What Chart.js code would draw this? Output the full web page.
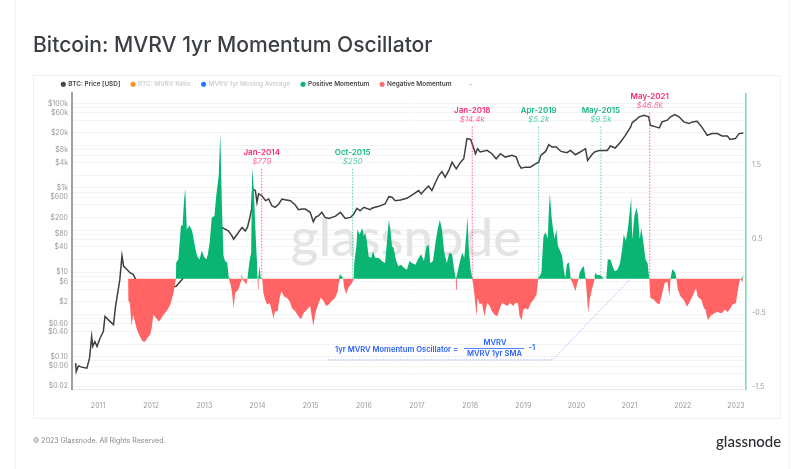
<!DOCTYPE html>
<html><head><meta charset="utf-8">
<script src="https://cdn.jsdelivr.net/npm/chart.js@4"></script>
<style>
html,body{margin:0;padding:0;background:#fff;width:805px;height:469px;overflow:hidden;font-family:Inter,sans-serif}
#wrap{position:relative;width:805px;height:469px;filter:blur(.45px)}
#outer{position:absolute;left:15px;top:-2px;width:775px;height:473px;border:1px solid #f4f4f4;box-sizing:border-box}
#card{position:absolute;left:33px;top:75px;width:748px;height:344px;border:1px solid #f0f0f0;box-sizing:border-box}
h1{position:absolute;left:33px;top:32px;margin:0;font:500 21.1px Inter,sans-serif;color:#3b3f44;white-space:nowrap}
#copy{position:absolute;left:33px;top:436px;font:400 7px Inter,sans-serif;color:#888}
#logo{position:absolute;left:716px;top:432px;font:500 15px Lato,sans-serif;color:#2c2f33}
canvas{position:absolute;left:0;top:0}
</style></head><body>
<div id="wrap">
<div id="outer"></div><div id="card"></div>
<h1>Bitcoin: MVRV 1yr Momentum Oscillator</h1>
<canvas id="c" width="805" height="469"></canvas>
<div id="copy">© 2023 Glassnode. All Rights Reserved.</div>
<div id="logo">glassnode</div>
</div>
<script>
const priceDates=[2010.58,2010.59,2010.63,2010.69,2010.79,2010.84,2010.88,2010.90,2010.94,2010.98,2011.04,2011.10,2011.13,2011.19,2011.29,2011.33,2011.38,2011.41,2011.45,2011.48,2011.54,2011.60,2011.66,2011.71,2011.79,2011.89,2012.02,2012.07,2012.26,2012.36,2012.47,2012.58,2012.73,2013.02,2013.15,2013.24,2013.31,2013.33,2013.39,2013.45,2013.52,2013.55,2013.64,2013.71,2013.77,2013.81,2013.85,2013.89,2013.91,2013.96,2013.99,2014.02,2014.08,2014.15,2014.21,2014.27,2014.33,2014.40,2014.46,2014.52,2014.62,2014.71,2014.77,2014.84,2014.90,2014.99,2015.05,2015.09,2015.15,2015.21,2015.27,2015.34,2015.46,2015.56,2015.65,2015.75,2015.81,2015.87,2015.93,2016.00,2016.12,2016.15,2016.28,2016.40,2016.47,2016.53,2016.59,2016.69,2016.81,2016.94,2017.03,2017.08,2017.16,2017.22,2017.28,2017.35,2017.41,2017.47,2017.53,2017.60,2017.66,2017.74,2017.82,2017.88,2017.94,2018.01,2018.06,2018.10,2018.14,2018.19,2018.32,2018.41,2018.49,2018.57,2018.66,2018.79,2018.87,2018.91,2018.96,2019.04,2019.13,2019.23,2019.29,2019.33,2019.42,2019.48,2019.54,2019.62,2019.71,2019.82,2019.89,2019.98,2020.07,2020.17,2020.21,2020.29,2020.34,2020.44,2020.58,2020.64,2020.73,2020.83,2020.92,2021.02,2021.05,2021.11,2021.18,2021.27,2021.36,2021.39,2021.49,2021.56,2021.61,2021.71,2021.77,2021.85,2021.93,2022.02,2022.12,2022.18,2022.27,2022.37,2022.46,2022.55,2022.65,2022.74,2022.84,2022.89,2022.99,2023.06,2023.14];
const priceValues=[.071,.045,.061,.057,.054,.093,.30,.176,.23,.176,.28,.40,.91,.76,.58,1.58,3.9,6.8,24.5,14.1,11.8,9.8,9,6.8,4.4,2.04,3.5,5.5,4.9,4.4,4.7,6.8,11.8,14.7,46,163,61,116,106,96,73,61,88,116,96,116,183,316,946,863,456,720,656,499,547,379,347,416,547,527,499,394,304,316,316,264,158,200,219,264,200,190,212,264,190,200,240,329,288,347,304,329,366,416,621,600,499,518,568,720,863,720,946,1097,863,1365,1963,2443,1795,2588,4083,2831,4083,4898,14678,14000,9297,6450,8483,7080,7740,6450,4898,6450,5370,5888,5370,3724,2940,3105,3105,3724,4083,5888,7310,10560,9297,9297,7310,6810,7740,6110,7080,8483,4470,6110,7080,7740,7740,9840,8810,12220,17600,27860,35300,40100,48200,52700,48200,30400,27860,26400,36600,40100,48200,54700,48200,36600,33400,36600,37900,26400,17600,19300,19300,17000,17000,14100,14700,19300,20000];
const oscDates=[2011.565,2011.57,2011.60,2011.63,2011.66,2011.70,2011.73,2011.76,2011.80,2011.84,2011.89,2011.93,2011.98,2012.01,2012.04,2012.09,2012.14,2012.18,2012.23,2012.29,2012.36,2012.42,2012.465,2012.47,2012.51,2012.56,2012.59,2012.62,2012.64,2012.67,2012.72,2012.77,2012.81,2012.86,2012.91,2012.95,2013.00,2013.05,2013.10,2013.14,2013.19,2013.22,2013.27,2013.30,2013.33,2013.36,2013.39,2013.43,2013.46,2013.50,2013.52,2013.55,2013.58,2013.64,2013.69,2013.70,2013.72,2013.79,2013.81,2013.85,2013.88,2013.90,2013.93,2013.96,2013.99,2014.00,2014.01,2014.02,2014.04,2014.06,2014.09,2014.11,2014.14,2014.18,2014.23,2014.27,2014.30,2014.33,2014.38,2014.41,2014.45,2014.50,2014.55,2014.60,2014.65,2014.71,2014.77,2014.82,2014.87,2014.93,2014.99,2015.05,2015.09,2015.15,2015.19,2015.24,2015.29,2015.34,2015.40,2015.46,2015.51,2015.53,2015.55,2015.59,2015.61,2015.63,2015.67,2015.71,2015.76,2015.81,2015.82,2015.86,2015.88,2015.92,2015.97,2016.00,2016.03,2016.06,2016.09,2016.14,2016.17,2016.22,2016.28,2016.34,2016.40,2016.44,2016.47,2016.50,2016.53,2016.56,2016.61,2016.65,2016.70,2016.75,2016.81,2016.86,2016.91,2016.97,2017.03,2017.08,2017.13,2017.18,2017.22,2017.25,2017.30,2017.35,2017.39,2017.43,2017.47,2017.51,2017.56,2017.61,2017.66,2017.70,2017.73,2017.735,2017.75,2017.80,2017.85,2017.89,2017.93,2017.95,2017.97,2018.01,2018.04,2018.07,2018.09,2018.12,2018.14,2018.18,2018.22,2018.27,2018.32,2018.37,2018.41,2018.46,2018.51,2018.56,2018.60,2018.65,2018.70,2018.75,2018.81,2018.85,2018.90,2018.93,2018.97,2019.00,2019.04,2019.09,2019.14,2019.20,2019.25,2019.28,2019.34,2019.38,2019.42,2019.46,2019.48,2019.50,2019.53,2019.56,2019.59,2019.62,2019.65,2019.68,2019.73,2019.76,2019.79,2019.82,2019.86,2019.89,2019.95,2019.98,2020.01,2020.04,2020.06,2020.11,2020.14,2020.17,2020.20,2020.22,2020.25,2020.29,2020.34,2020.35,2020.39,2020.44,2020.48,2020.51,2020.56,2020.59,2020.64,2020.68,2020.72,2020.77,2020.82,2020.86,2020.89,2020.93,2020.97,2021.00,2021.03,2021.05,2021.09,2021.13,2021.16,2021.19,2021.22,2021.26,2021.30,2021.34,2021.37,2021.39,2021.46,2021.51,2021.56,2021.60,2021.66,2021.71,2021.75,2021.77,2021.80,2021.82,2021.86,2021.88,2021.91,2021.96,2022.02,2022.08,2022.12,2022.18,2022.25,2022.28,2022.35,2022.40,2022.43,2022.47,2022.52,2022.59,2022.65,2022.73,2022.79,2022.85,2022.94,2023.00,2023.05,2023.08,2023.09,2023.12,2023.14];
const oscValues=[0,-.30,-.33,-.64,-.49,-.60,-.69,-.74,-.80,-.85,-.85,-.80,-.76,-.67,-.49,-.53,-.58,-.55,-.49,-.44,-.35,-.19,0,.22,.26,.72,.72,1.08,1.22,.67,.72,.65,.49,.31,.26,.38,.29,.26,.49,.83,.85,1.10,1.40,1.97,.99,.31,.24,.22,.01,-.10,-.19,-.40,-.19,-.15,-.03,.07,-.01,-.08,0,.24,.35,1.51,1.22,.67,.22,0,-.15,0,.17,.01,-.01,-.19,-.28,-.35,-.33,-.44,-.54,-.44,-.44,-.28,-.17,-.24,-.26,-.30,-.40,-.44,-.51,-.55,-.46,-.42,-.37,-.64,-.46,-.33,-.26,-.30,-.37,-.35,-.30,-.26,-.17,-.05,.06,.03,0,-.12,-.21,-.12,-.08,-.01,.21,.44,.67,.60,.69,.58,.62,.49,.30,.28,.37,.28,.28,.24,.21,.53,.80,.67,.44,.42,.24,.17,.19,.15,.12,.24,.21,.19,.28,.33,.24,.44,.46,.21,.24,.49,.67,.80,.67,.37,.21,.35,.33,.12,0,-.15,0,.21,.35,.28,.62,.85,.44,.12,.01,-.15,-.28,-.51,-.26,-.35,-.33,-.51,-.33,-.37,-.44,-.49,-.51,-.40,-.33,-.35,-.37,-.33,-.37,-.33,-.33,-.51,-.56,-.42,-.40,-.42,-.33,-.28,-.21,-.01,.08,.58,.63,.54,.90,1.15,.85,.67,.54,.67,.45,.40,.31,.13,.01,.20,.22,.01,-.10,-.17,-.08,0,.08,.15,.17,.01,-.24,-.46,-.28,-.15,-.01,.08,.05,.05,.03,0,0,.26,.26,.17,.10,.12,.21,.40,.60,.51,.69,.89,1.10,.53,.85,.96,.85,.53,.69,.49,.26,.21,0,-.26,-.29,-.33,-.35,-.24,-.06,-.04,-.24,-.01,.12,.12,.08,0,-.15,-.24,-.29,-.38,-.33,-.24,-.13,-.24,-.29,-.40,-.42,-.56,-.51,-.47,-.45,-.47,-.42,-.45,-.35,-.33,-.10,0,.01,-.04,.08];
const leftGridValues=[.02,.04,.06,.08,.1,.2,.4,.6,.8,1,2,4,6,8,10,20,40,60,80,100,200,400,600,800,1000,2000,4000,6000,8000,10000,20000,40000,60000,80000,100000];
const leftTickValues=[100000,60000,20000,8000,4000,1000,600,200,80,40,10,6,2,.6,.4,.1,.06,.02];
const leftTickLabels=["$100k","$60k","$20k","$8k","$4k","$1k","$600","$200","$80","$40","$10","$6","$2","$0.60","$0.40","$0.10","$0.06","$0.02"];
const rightTickValues=[1.54,.54,-.46,-1.46];
const rightTickLabels=["1.5","0.5","-0.5","-1.5"];
const yearTicks=[2011,2012,2013,2014,2015,2016,2017,2018,2019,2020,2021,2022,2023];
const legendNames=["BTC: Price [USD]","BTC: MVRV Ratio","MVRV 1yr Moving Average","Positive Momentum","Negative Momentum","-"];
const legendDots=["#444444","#f7931a","#2979ff","#0ab573","#ff6b6b","rgba(0,0,0,0)"];
const legendInk=["#444444","#cfcfcf","#cfcfcf","#444444","#444444","#999999"];
const annDates=[2014.08,2015.79,2018.04,2019.29,2020.46,2021.38];
const annTitles=["Jan-2014","Oct-2015","Jan-2018","Apr-2019","May-2015","May-2021"];
const annPrices=["$779","$250","$14.4k","$5.2k","$9.5k","$46.8k"];
const annTops=[2835,2835,28300,28300,28300,61000];
const annIsRed=[true,false,true,false,false,true];
const annBase=7.08;
const pointerDates=[2015.33,2019.55,2021.02];
const pointerValues=[-1.10,-1.10,0];

const xy=(xs,ys)=>xs.map((x,i)=>({x,y:ys[i]}));
const GREEN='#0ab573',RED='#ff6363';
const vlines=annDates.map((d,i)=>({type:'line',xAxisID:'x',yAxisID:'y',data:[{x:d,y:annTops[i]},{x:d,y:annBase}],
  borderColor:annIsRed[i]?'rgba(255,50,110,.75)':'rgba(20,190,130,.65)',borderWidth:1,borderDash:[1.5,1.5],pointRadius:0,fill:false}));
const textPlugin={id:'txt',
  afterLayout(c){ c.legend.top=70; c.legend.left=50.5; },
  beforeDatasetsDraw(c){const g=c.ctx;g.save();g.fillStyle='#e4e4e4';g.font='500 53px Lato,sans-serif';g.textAlign='center';g.textBaseline='alphabetic';
    g.fillText('glassnode',406,256);g.restore();},
  afterDatasetsDraw(c){const g=c.ctx,xs=c.scales.x,ys=c.scales.y;g.save();g.textAlign='center';g.textBaseline='middle';
    annDates.forEach((d,i)=>{const px=xs.getPixelForValue(d),py=ys.getPixelForValue(annTops[i]);
      g.fillStyle=annIsRed[i]?'#ff2a6d':'#17b97e';g.font='600 8px Inter,sans-serif';g.fillText(annTitles[i],px,py-16);
      g.fillStyle=annIsRed[i]?'#ff6f9a':'#5fd0a6';g.font='italic 400 8px Inter,sans-serif';g.fillText(annPrices[i],px,py-7);});
    const B='#2962ff';g.fillStyle=B;g.font='600 7.6px Inter,sans-serif';g.textAlign='left';
    g.fillText('1yr MVRV Momentum Oscillator =',335,349.5);
    g.textAlign='center';g.fillText('MVRV',495,343);g.fillText('MVRV 1yr SMA',494.5,354);
    g.fillRect(464,348,60,.8);g.textAlign='left';g.fillText('-1',528.5,348);
    g.restore();}
};
new Chart(document.getElementById('c'),{
  type:'line',
  plugins:[textPlugin],
  data:{datasets:[...vlines,
    {data:xy(pointerDates,pointerValues),yAxisID:'y2',borderColor:'rgba(90,140,255,.6)',borderWidth:1,borderDash:[1.5,1.5],pointRadius:0,fill:false},
    {data:xy(oscDates,oscValues.map(v=>Math.max(v,0))),yAxisID:'y2',borderWidth:0,backgroundColor:GREEN,pointRadius:0,fill:'origin'},
    {data:xy(oscDates,oscValues.map(v=>Math.min(v,0))),yAxisID:'y2',borderWidth:0,backgroundColor:RED,pointRadius:0,fill:'origin'},
    {data:xy(priceDates,priceValues),yAxisID:'y',borderColor:'#3f3f3f',borderWidth:1.5,pointRadius:0,fill:false}
  ]},
  options:{responsive:false,animation:false,devicePixelRatio:1,
    layout:{padding:{left:33,right:24,top:66,bottom:55}},
    plugins:{tooltip:{enabled:false},
      legend:{position:'top',align:'start',onClick:null,labels:{usePointStyle:true,boxWidth:3.6,boxHeight:3.6,padding:11,
        font:{family:'Inter',size:6.4,weight:'600'},
        generateLabels:()=>legendNames.map((t,i)=>({text:t,fillStyle:legendDots[i],strokeStyle:legendDots[i],lineWidth:0,pointStyle:'circle',fontColor:legendInk[i],hidden:false}))}}},
    scales:{
      x:{type:'linear',min:2010.51,max:2023.19,grid:{display:false},border:{color:'#e8e8e8',width:1},
        afterBuildTicks:s=>{s.ticks=yearTicks.map(v=>({value:v}));},
        afterFit:s=>{s.height=25;},
        ticks:{autoSkip:false,maxRotation:0,padding:5,color:'#999',font:{family:'Inter',size:7},callback:v=>String(v)}},
      y:{type:'logarithmic',position:'left',min:.0173,max:173000,
        grid:{color:'#f3f3f3',lineWidth:1,drawTicks:false},border:{color:'#a0a0a0',width:2},
        afterBuildTicks:s=>{s.ticks=leftGridValues.map(v=>({value:v}));},
        afterFit:s=>{s.width=39;},
        ticks:{autoSkip:false,padding:4,color:'#999',font:{family:'Inter',size:7},
          callback:v=>{const i=leftTickValues.indexOf(v);return i<0?'':leftTickLabels[i];}}},
      y2:{type:'linear',position:'right',min:-1.495,max:2.511,
        grid:{display:false,drawTicks:false},border:{color:'#7fdcb2',width:1.6},
        afterBuildTicks:s=>{s.ticks=rightTickValues.map(v=>({value:v}));},
        afterFit:s=>{s.width=35;},
        ticks:{autoSkip:false,padding:6,color:'#999',font:{family:'Inter',size:7},
          callback:v=>{const i=rightTickValues.indexOf(v);return i<0?'':rightTickLabels[i];}}}
    }}
});
</script>
</body></html>
